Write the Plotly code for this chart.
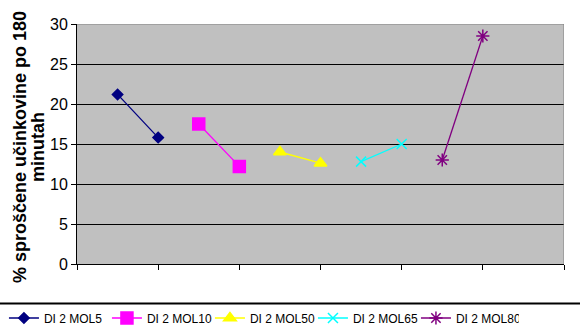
import plotly.graph_objects as go

series_names = ["DI 2 MOL5", "DI 2 MOL10", "DI 2 MOL50", "DI 2 MOL65", "DI 2 MOL80"]
series_x = [[0.5, 1.0], [1.5, 2.0], [2.5, 3.0], [3.5, 4.0], [4.5, 5.0]]
series_y = [[21.2, 15.8], [17.5, 12.2], [14.0, 12.6], [12.8, 15.0], [13.0, 28.5]]
colors = ["#000080", "#FF00FF", "#FFFF00", "#00FFFF", "#800080"]
symbols = ["diamond", "square", "triangle-up", "x-thin-open", "asterisk-open"]
sizes = [8, 12, 11, 10, 11]
y_ticks = [0, 5, 10, 15, 20, 25, 30]
title_lines = ["% sproščene učinkovine po 180", "minutah"]

fig = go.Figure()
for name, xs, ys, c, s, sz in zip(series_names, series_x, series_y, colors, symbols, sizes):
    fig.add_trace(go.Scatter(
        x=xs, y=ys, name=name, mode="lines+markers",
        line=dict(color=c, width=1.3),
        marker=dict(symbol=s, size=sz, color=c, line=dict(color=c, width=1.5)),
    ))

fig.update_layout(
    width=580, height=334,
    margin=dict(l=77, r=16, t=24, b=70, autoexpand=False),
    paper_bgcolor="white", plot_bgcolor="#C0C0C0",
    font=dict(family="Liberation Sans, Arial", color="black", size=13),
    showlegend=True,
    legend=dict(orientation="h", xref="paper", yref="paper",
                x=-0.15, xanchor="left", y=-0.225, yanchor="middle",
                font=dict(size=12), itemwidth=30, tracegroupgap=0,
                entrywidth=58, entrywidthmode="pixels",
                bgcolor="rgba(0,0,0,0)"),
    xaxis=dict(range=[0, 6], tickvals=[0, 1, 2, 3, 4, 5, 6], showticklabels=False,
               ticks="outside", ticklen=5, tickcolor="black", showgrid=False,
               showline=True, linecolor="black", linewidth=1, zeroline=False,
               mirror=False),
    yaxis=dict(range=[0, 30], tickvals=y_ticks, ticks="outside", ticklen=5,
               tickcolor="black", showgrid=True, gridcolor="black", gridwidth=1,
               showline=True, linecolor="black", linewidth=1, zeroline=False,
               tickfont=dict(size=16)),
)
for i, (line, xp) in enumerate(zip(title_lines, [20, 38])):
    fig.add_annotation(text="<b>" + line + "</b>", textangle=-90,
                       xref="paper", yref="paper", x=(xp - 77) / 487, y=(264 - 147) / 240,
                       xanchor="center", yanchor="middle", showarrow=False,
                       font=dict(size=18))
fig.add_shape(type="line", xref="x", yref="y", x0=0, x1=6, y0=30, y1=30,
              line=dict(color="#808080", width=1))
fig.add_shape(type="line", xref="x", yref="y", x0=6, x1=6, y0=0, y1=30,
              line=dict(color="#808080", width=1))
fig.add_shape(type="line", xref="paper", yref="paper", x0=-0.2, x1=1.1, y0=-0.165, y1=-0.165,
              line=dict(color="black", width=2))
fig.write_html("out.html")
